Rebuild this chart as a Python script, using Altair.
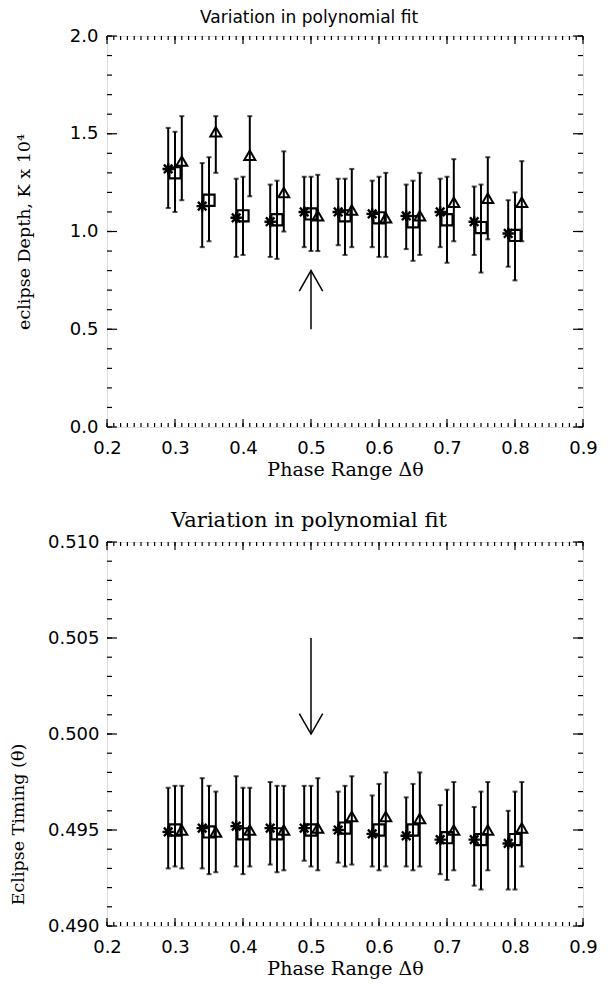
import altair as alt
import pandas as pd
import numpy as np

# ---------------- data ----------------
groups = [0.30, 0.35, 0.40, 0.45, 0.50, 0.55, 0.60, 0.65, 0.70, 0.75, 0.80]
series = ["asterisk", "square", "triangle"]
offsets = [-0.01, 0.0, 0.01]

# eclipse depth (K x 10^4)
depth_ast = [1.32, 1.13, 1.07, 1.05, 1.10, 1.10, 1.09, 1.08, 1.10, 1.05, 0.99]
depth_ast_lo = [1.12, 0.92, 0.87, 0.87, 0.92, 0.93, 0.92, 0.91, 0.92, 0.88, 0.82]
depth_ast_hi = [1.53, 1.35, 1.27, 1.24, 1.28, 1.27, 1.26, 1.24, 1.27, 1.23, 1.16]
depth_sq = [1.30, 1.16, 1.08, 1.06, 1.09, 1.08, 1.07, 1.05, 1.06, 1.02, 0.98]
depth_sq_lo = [1.10, 0.95, 0.88, 0.86, 0.90, 0.88, 0.87, 0.85, 0.84, 0.79, 0.75]
depth_sq_hi = [1.51, 1.38, 1.28, 1.26, 1.28, 1.27, 1.28, 1.26, 1.28, 1.24, 1.20]
depth_tri = [1.36, 1.51, 1.39, 1.20, 1.08, 1.11, 1.07, 1.08, 1.15, 1.17, 1.15]
depth_tri_lo = [1.16, 1.30, 1.18, 1.00, 0.90, 0.92, 0.87, 0.88, 0.95, 0.96, 0.95]
depth_tri_hi = [1.59, 1.59, 1.59, 1.41, 1.29, 1.32, 1.30, 1.30, 1.37, 1.38, 1.36]

# eclipse timing (phase)
time_ast = [0.4949, 0.4951, 0.4952, 0.4951, 0.4951, 0.4950, 0.4948, 0.4947, 0.4945, 0.4945, 0.4943]
time_ast_lo = [0.4930, 0.4930, 0.4931, 0.4932, 0.4934, 0.4933, 0.4931, 0.4931, 0.4927, 0.4921, 0.4919]
time_ast_hi = [0.4972, 0.4977, 0.4978, 0.4975, 0.4973, 0.4970, 0.4968, 0.4967, 0.4963, 0.4962, 0.4960]
time_sq = [0.4950, 0.4949, 0.4948, 0.4948, 0.4950, 0.4951, 0.4950, 0.4950, 0.4946, 0.4945, 0.4945]
time_sq_lo = [0.4931, 0.4927, 0.4927, 0.4928, 0.4931, 0.4931, 0.4929, 0.4929, 0.4924, 0.4919, 0.4919]
time_sq_hi = [0.4973, 0.4973, 0.4972, 0.4973, 0.4973, 0.4973, 0.4974, 0.4974, 0.4971, 0.4970, 0.4970]
time_tri = [0.4950, 0.4949, 0.4950, 0.4950, 0.4951, 0.4957, 0.4957, 0.4956, 0.4950, 0.4950, 0.4951]
time_tri_lo = [0.4930, 0.4928, 0.4931, 0.4929, 0.4929, 0.4932, 0.4931, 0.4931, 0.4929, 0.4929, 0.4931]
time_tri_hi = [0.4973, 0.4970, 0.4972, 0.4973, 0.4977, 0.4978, 0.4980, 0.4980, 0.4975, 0.4975, 0.4975]

# arrows (x, tail, tip)
arrow_x = [0.5]
depth_arrow_tail = [0.5]
depth_arrow_tip = [0.8]
time_arrow_tail = [0.505]
time_arrow_tip = [0.500]

# axis ticks
x_major = [0.2, 0.3, 0.4, 0.5, 0.6, 0.7, 0.8, 0.9]
x_minor = [round(v, 2) for v in np.arange(0.20, 0.9001, 0.01)]
depth_major = [0.0, 0.5, 1.0, 1.5, 2.0]
depth_minor = [round(v, 1) for v in np.arange(0.0, 2.0001, 0.1)]
time_major = [0.490, 0.495, 0.500, 0.505, 0.510]
time_minor = [round(v, 3) for v in np.arange(0.490, 0.51001, 0.001)]

titles = ["Variation in polynomial fit", "Variation in polynomial fit"]
x_title = "Phase Range \u0394\u03b8"
depth_title = "eclipse Depth, K x 10\u2074"
time_title = "Eclipse Timing (\u03b8)"

# ---------------- styling ----------------
W = 476
H1 = 391
H2 = 384
SANS = "DejaVu Sans"
SERIF = "DejaVu Serif"
ASTERISK = "M0,-1L0,1M-1,0L1,0M-0.75,-0.75L0.75,0.75M-0.75,0.75L0.75,-0.75"
HEAD_UP = "M-1.2,2.1L0,0L1.2,2.1"
HEAD_DOWN = "M-1.2,-2.1L0,0L1.2,-2.1"


def make_df(vals):
    rows = []
    for s, off, (v, lo, hi) in zip(series, offsets, vals):
        for g, a, b, c in zip(groups, v, lo, hi):
            rows.append({"x": round(g + off, 3), "v": a, "lo": b, "hi": c, "s": s})
    return pd.DataFrame(rows)


def panel(df, yscale, ymaj, ymin, H, yfmt, ytitle, title, title_font, title_size, title_offset,
          arr_tail, arr_tip, head, ylabel_pad, ytitle_pad, ytitle_y):
    xsc = alt.Scale(domain=[0.2, 0.9], nice=False, zero=False)
    xaxis = alt.Axis(values=x_major, format=".1f", title=x_title, domain=False, ticks=False,
                     tickSize=0, grid=False, labelFont=SANS, labelFontSize=18, labelPadding=12,
                     labelFlush=False, labelOverlap=False,
                     titleFont=SERIF, titleFontSize=19, titleFontWeight="normal", titlePadding=3,
                     labelColor="black", titleColor="black")
    yaxis = alt.Axis(values=ymaj, format=yfmt, title=ytitle, domain=False, ticks=False,
                     tickSize=0, grid=False, labelFont=SANS, labelFontSize=18, labelFlush=False,
                     labelPadding=ylabel_pad, titleFont=SERIF, titleFontSize=17.5,
                     titleFontWeight="normal", titlePadding=ytitle_pad, titleY=ytitle_y,
                     labelColor="black", titleColor="black")
    X = lambda f: alt.X(f, scale=xsc, axis=xaxis)
    Y = lambda f: alt.Y(f, scale=yscale, axis=yaxis)

    base = alt.Chart(df)
    bars = base.mark_rule(color="black", strokeWidth=2).encode(x=X("x:Q"), y=Y("lo:Q"), y2="hi:Q")
    cap_lo = base.mark_tick(color="black", orient="horizontal", size=5, thickness=2).encode(
        x=X("x:Q"), y=Y("lo:Q"))
    cap_hi = base.mark_tick(color="black", orient="horizontal", size=5, thickness=2).encode(
        x=X("x:Q"), y=Y("hi:Q"))
    pts = base.mark_point(filled=False, color="black", opacity=1).encode(
        x=X("x:Q"),
        y=Y("v:Q"),
        shape=alt.Shape("s:N", scale=alt.Scale(domain=series, range=[ASTERISK, "square", "triangle-up"]),
                        legend=None),
        size=alt.Size("s:N", scale=alt.Scale(domain=series, range=[130, 120, 160]), legend=None),
        strokeWidth=alt.StrokeWidth("s:N", scale=alt.Scale(domain=series, range=[2.4, 2, 2]), legend=None),
    )
    adf = pd.DataFrame({"x": arrow_x, "tail": arr_tail, "tip": arr_tip})
    shaft = alt.Chart(adf).mark_rule(color="black", strokeWidth=1.5).encode(
        x=X("x:Q"), y=Y("tail:Q"), y2="tip:Q")
    ahead = alt.Chart(adf).mark_point(shape=head, size=380, filled=False, color="black",
                                      strokeWidth=1.5, opacity=1).encode(x=X("x:Q"), y=Y("tip:Q"))

    layers = [bars, cap_lo, cap_hi, pts, shaft, ahead]
    for vals, L in ((x_major, 8), (x_minor, 4)):
        tb = alt.Chart(pd.DataFrame({"t": vals})).mark_rule(color="black", strokeWidth=1.2)
        layers.append(tb.encode(x=X("t:Q"), y=alt.value(H), y2=alt.value(H - L)))
        layers.append(tb.encode(x=X("t:Q"), y=alt.value(0), y2=alt.value(L)))
    for vals, L in ((ymaj, 10), (ymin, 5)):
        tb = alt.Chart(pd.DataFrame({"t": vals})).mark_rule(color="black", strokeWidth=1.2)
        layers.append(tb.encode(y=Y("t:Q"), x=alt.value(0), x2=alt.value(L)))
        layers.append(tb.encode(y=Y("t:Q"), x=alt.value(W), x2=alt.value(W - L)))

    return alt.layer(*layers).properties(
        width=W, height=H,
        title=alt.TitleParams(title, font=title_font, fontSize=title_size, fontWeight="normal",
                              color="black", offset=title_offset, anchor="middle", dx=-36),
    )


depth_df = make_df([(depth_ast, depth_ast_lo, depth_ast_hi),
                    (depth_sq, depth_sq_lo, depth_sq_hi),
                    (depth_tri, depth_tri_lo, depth_tri_hi)])
time_df = make_df([(time_ast, time_ast_lo, time_ast_hi),
                   (time_sq, time_sq_lo, time_sq_hi),
                   (time_tri, time_tri_lo, time_tri_hi)])

top = panel(depth_df, alt.Scale(domain=[0.0, 2.0], nice=False, zero=False), depth_major, depth_minor,
            H1, ".1f", depth_title, titles[0], SANS, 17, 0, depth_arrow_tail, depth_arrow_tip, HEAD_UP,
            9, 36, H1 / 2)
bottom = panel(time_df, alt.Scale(domain=[0.490, 0.510], nice=False, zero=False), time_major, time_minor,
               H2, ".3f", time_title, titles[1], SERIF, 21, 2, time_arrow_tail, time_arrow_tip, HEAD_DOWN,
               8, 20, 282)

chart = alt.vconcat(top, bottom, spacing=29).properties(padding=0).configure_view(
    stroke="black", strokeWidth=2
).configure(background="white")

chart.save("out.html", embed_options={"renderer": "svg", "actions": False})
